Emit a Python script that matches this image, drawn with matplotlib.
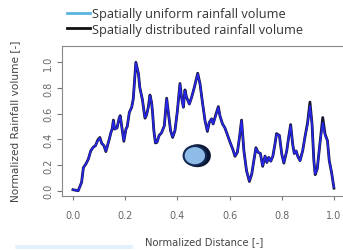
import numpy as np
import matplotlib
matplotlib.use("Agg")
import matplotlib.pyplot as plt
from matplotlib.lines import Line2D
from matplotlib.patches import Ellipse, Rectangle

# normalized distance and rainfall volume
dist = [0.000, 0.020, 0.033, 0.040, 0.050, 0.059, 0.068, 0.078, 0.086, 0.095,
        0.103, 0.110, 0.119, 0.126, 0.139, 0.145, 0.150, 0.155, 0.160, 0.169,
        0.177, 0.181, 0.190, 0.195, 0.203, 0.208, 0.216, 0.225, 0.231, 0.241,
        0.251, 0.256, 0.266, 0.272, 0.276, 0.282, 0.289, 0.295, 0.301, 0.305,
        0.310, 0.316, 0.322, 0.330, 0.339, 0.350, 0.359, 0.366, 0.374, 0.382,
        0.391, 0.400, 0.410, 0.416, 0.423, 0.429, 0.435, 0.446, 0.455, 0.465,
        0.478, 0.487, 0.497, 0.506, 0.515, 0.522, 0.531, 0.537, 0.547, 0.557,
        0.563, 0.573, 0.582, 0.591, 0.602, 0.612, 0.621, 0.630, 0.638, 0.646,
        0.655, 0.665, 0.676, 0.685, 0.693, 0.701, 0.709, 0.718, 0.727, 0.736,
        0.743, 0.750, 0.758, 0.766, 0.774, 0.780, 0.791, 0.800, 0.808, 0.819,
        0.826, 0.834, 0.842, 0.848, 0.855, 0.861, 0.870, 0.880, 0.889, 0.899,
        0.908, 0.916, 0.923, 0.928, 0.936, 0.946, 0.957, 0.966, 0.975, 0.982,
        0.991, 1.000]
uniform = [0.008, 0.000, 0.065, 0.180, 0.210, 0.247, 0.310, 0.340, 0.350, 0.390,
           0.410, 0.370, 0.350, 0.310, 0.400, 0.450, 0.480, 0.545, 0.480, 0.490,
           0.560, 0.580, 0.455, 0.390, 0.480, 0.500, 0.610, 0.650, 0.710, 0.995,
           0.910, 0.805, 0.710, 0.620, 0.570, 0.590, 0.650, 0.740, 0.690, 0.610,
           0.467, 0.377, 0.377, 0.430, 0.450, 0.506, 0.714, 0.600, 0.467, 0.420,
           0.470, 0.620, 0.830, 0.727, 0.650, 0.780, 0.730, 0.675, 0.730, 0.805,
           0.909, 0.830, 0.675, 0.545, 0.467, 0.530, 0.560, 0.520, 0.584, 0.650,
           0.584, 0.520, 0.490, 0.440, 0.377, 0.325, 0.273, 0.300, 0.415, 0.545,
           0.310, 0.156, 0.078, 0.130, 0.234, 0.330, 0.300, 0.290, 0.195, 0.270,
           0.220, 0.260, 0.230, 0.270, 0.364, 0.440, 0.430, 0.286, 0.220, 0.310,
           0.410, 0.506, 0.360, 0.290, 0.310, 0.270, 0.234, 0.310, 0.420, 0.520,
           0.660, 0.520, 0.234, 0.130, 0.170, 0.364, 0.530, 0.430, 0.390, 0.234,
           0.140, 0.026]
distributed = [0.008, 0.000, 0.065, 0.180, 0.210, 0.247, 0.310, 0.340, 0.350, 0.395,
               0.415, 0.370, 0.350, 0.305, 0.400, 0.450, 0.480, 0.550, 0.480, 0.490,
               0.565, 0.585, 0.455, 0.385, 0.480, 0.500, 0.610, 0.650, 0.715, 1.000,
               0.910, 0.805, 0.710, 0.620, 0.565, 0.590, 0.655, 0.745, 0.690, 0.610,
               0.467, 0.372, 0.377, 0.430, 0.450, 0.506, 0.720, 0.600, 0.467, 0.415,
               0.470, 0.620, 0.835, 0.727, 0.650, 0.785, 0.730, 0.675, 0.730, 0.805,
               0.915, 0.830, 0.675, 0.545, 0.462, 0.530, 0.560, 0.520, 0.590, 0.655,
               0.584, 0.520, 0.490, 0.440, 0.377, 0.325, 0.268, 0.300, 0.415, 0.550,
               0.310, 0.156, 0.072, 0.130, 0.234, 0.335, 0.300, 0.290, 0.190, 0.270,
               0.220, 0.260, 0.230, 0.270, 0.364, 0.445, 0.430, 0.286, 0.215, 0.310,
               0.410, 0.515, 0.360, 0.290, 0.310, 0.270, 0.234, 0.310, 0.420, 0.530,
               0.690, 0.520, 0.234, 0.125, 0.170, 0.364, 0.570, 0.440, 0.390, 0.234,
               0.140, 0.020]

# the big point (spatially uniform vs distributed)
pt_x = [0.477, 0.467]
pt_y = [0.273, 0.273]

legend_labels = ["Spatially uniform rainfall volume", "Spatially distributed rainfall volume"]
xticks = [0.0, 0.2, 0.4, 0.6, 0.8, 1.0]
yticks = [0.0, 0.2, 0.4, 0.6, 0.8, 1.0]

fig = plt.figure(figsize=(3.43, 2.51), dpi=100)
ax = fig.add_axes([62 / 343, 54 / 251, 282.4 / 343, 150 / 251])

ax.plot(dist, distributed, color="#151530", lw=2.0, zorder=2)
ax.plot(dist, uniform, color="#2626e6", lw=1.3, zorder=3)

ax.add_patch(Ellipse((pt_x[0], pt_y[0]), 0.103, 0.179, facecolor="#0b1730",
                     edgecolor="none", zorder=4))
ax.add_patch(Ellipse((pt_x[1], pt_y[1]), 0.086, 0.150, facecolor="#8fbbe8",
                     edgecolor="#142a55", lw=1.5, zorder=5))

ax.set_xlim(-0.042, 1.04)
ax.set_ylim(-0.041, 1.127)
ax.set_xticks(xticks)
ax.set_xticklabels(["%.1f" % t for t in xticks])
ax.set_yticks(yticks)
ax.set_yticklabels(["%.1f" % t for t in yticks], rotation=90, va="center")
ax.tick_params(axis="x", length=3, width=0.8, color="#777777", labelsize=7,
               labelcolor="#666666", pad=7)
ax.tick_params(axis="y", length=3.5, width=0.8, color="#777777", labelsize=7,
               labelcolor="#666666", pad=3)
for s in ["left", "top", "bottom"]:
    ax.spines[s].set_color("#888888")
    ax.spines[s].set_linewidth(0.8)
ax.spines["right"].set_visible(False)

fig.text(204 / 343, 1 - 242 / 251, "Normalized Distance [-]", ha="center", va="center",
         fontsize=7.2, color="#444444")
fig.text(15 / 343, 1 - 121 / 251, "Normalized Rainfall volume [-]", ha="center",
         va="center", rotation=90, fontsize=7.6, color="#444444")

handles = [Line2D([], [], color="#5ab4e0", lw=2),
           Line2D([], [], color="#111111", lw=2)]
leg = fig.legend(handles, legend_labels, loc="upper left",
                 bbox_to_anchor=(67 / 343, 1 - 8 / 251), frameon=False,
                 fontsize=9.2, handlelength=1.8, handletextpad=0.12,
                 labelspacing=0.22, borderpad=0, borderaxespad=0)
for t in leg.get_texts():
    t.set_family("Open Sans")
    t.set_color("#333333")

fig.patches.append(Rectangle((15 / 343, 1 - 250 / 251), 118 / 343, 4 / 251,
                             transform=fig.transFigure, facecolor="#e2f1fb",
                             edgecolor="none"))

fig.savefig("out.png", dpi=100)
